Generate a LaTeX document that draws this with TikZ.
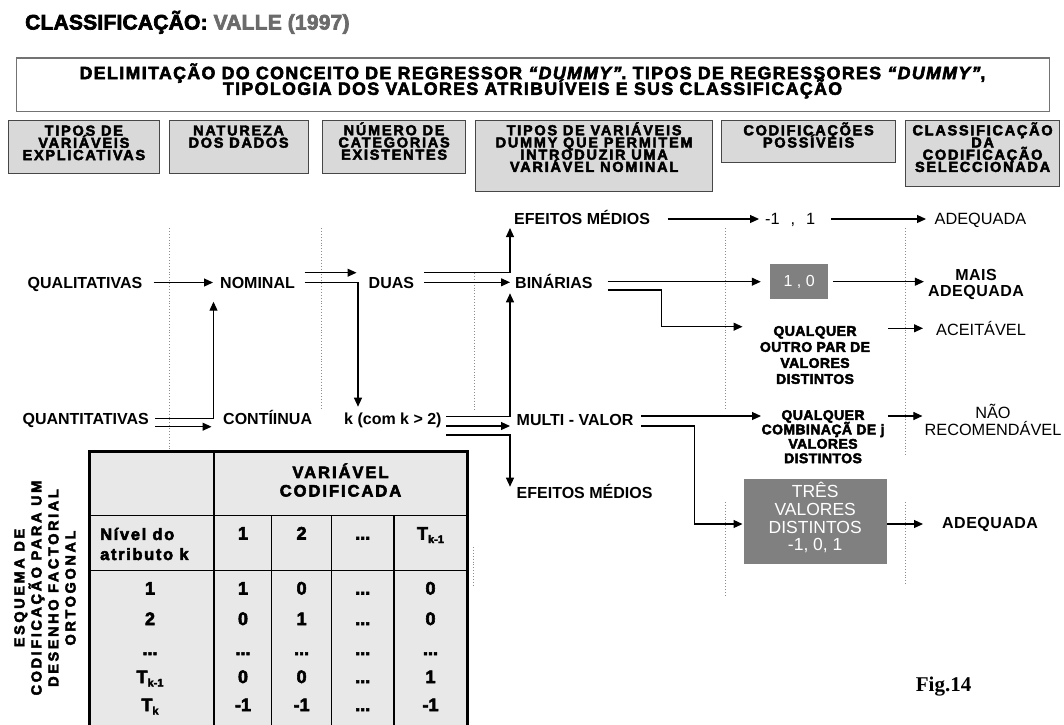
\documentclass[tikz,border=0pt]{standalone}
\usepackage{fontspec}
\setmainfont{Liberation Sans}
\newfontfamily\hvfont{Liberation Sans Bold}[FakeBold=3.2]
\newfontfamily\hvitfont{Liberation Sans Bold Italic}[FakeBold=3.2]
\newfontfamily\bdfont{Liberation Sans Bold}
\newfontfamily\rgfont{Liberation Sans}
\newfontfamily\figfont{Liberation Serif Bold}
\usetikzlibrary{arrows.meta,calc}

% heavy spaced capitals: size, leading, letter spacing
\newcommand{\heavy}[3]{\hvfont\fontsize{#1}{#2}\selectfont\addfontfeature{LetterSpace=#3}\lineskiplimit=-100pt\relax}
\newcommand{\plainbold}[2]{\bdfont\fontsize{#1}{#2}\selectfont\lineskiplimit=-100pt\relax}
\newcommand{\plainreg}[2]{\rgfont\fontsize{#1}{#2}\selectfont\lineskiplimit=-100pt\relax}
\newcommand{\dum}{{\hvitfont\addfontfeature{LetterSpace=8}“DUMMY”}}
\newcommand{\Tsub}[1]{T\raisebox{-3.5pt}{\fontsize{11}{11}\selectfont #1}}

\begin{document}
\begin{tikzpicture}[x=1pt,y=-1pt,
  arr/.style={line width=1.1pt,-{Triangle[length=9pt,width=8pt]}},
  dotln/.style={line width=0.9pt,dotted,draw=black!45},
  colbox/.style={draw=black!72,line width=1.2pt,fill=black!15,inner sep=0pt,anchor=north west},
  hd/.style={inner sep=0pt,align=center,anchor=north,font={\heavy{14.5}{12.2}{12}}},
  lbl/.style={inner sep=0pt,anchor=west,text height=11.5pt,text depth=0pt,font={\plainbold{16}{16}}},
  rlbl/.style={inner sep=0pt,anchor=west,text height=11.7pt,text depth=0pt,font={\plainreg{16.3}{16.3}}},
  qbox/.style={inner sep=0pt,align=center,font={\heavy{14}{16}{3}}},
  graybox/.style={fill=black!50,inner sep=0pt,text=white,font={\plainreg{16}{16}}},
  tbl/.style={inner sep=0pt,anchor=base,font={\heavy{18}{18}{0}}},
]
\path[use as bounding box] (0,0) rectangle (1064,724);
\clip (0,0) rectangle (1064,724);
\fill[white] (0,0) rectangle (1064,724);

% ---------- title ----------
\node[inner sep=0pt,anchor=base west,font={\heavy{21}{21}{1}}] (ttl) at (25,29.5)
  {CLASSIFICAÇÃO: \textcolor{black!58}{VALLE (1997)}};

% ---------- heading box ----------
\node[draw=black!55,line width=1.2pt,fill=white,inner sep=0pt,anchor=north west,
      minimum width=1033.5pt,minimum height=53.7pt] (hdr) at (15.5,57.3) {};
\node[inner sep=0pt,align=center,font={\heavy{17.7}{15.7}{8}}] (hdrtxt) at (532.5,80.9)
  {DELIMITAÇÃO DO CONCEITO DE REGRESSOR \dum. TIPOS DE REGRESSORES \dum,\\
   TIPOLOGIA DOS VALORES ATRIBUÍVEIS E SUS CLASSIFICAÇÃO};

% ---------- column headings ----------
\node[colbox,minimum width=151.5pt,minimum height=53pt] (c1) at (7.5,120) {};
\node[colbox,minimum width=139pt,minimum height=53pt] (c2) at (168.5,120) {};
\node[colbox,minimum width=143pt,minimum height=53pt] (c3) at (322,120) {};
\node[colbox,minimum width=237pt,minimum height=70.5pt] (c4) at (475,120) {};
\node[colbox,minimum width=174pt,minimum height=42pt] (c5) at (721,120) {};
\node[colbox,minimum width=154pt,minimum height=66pt] (c6) at (905,120) {};
\node[hd] (c1t) at ($(c1.north)+(0,5.3)$) {TIPOS DE\\VARIÁVEIS\\EXPLICATIVAS};
\node[hd] (c2t) at ($(c2.north)+(0,5.3)$) {NATUREZA\\DOS DADOS};
\node[hd] (c3t) at ($(c3.north)+(0,2.2)$) {NÚMERO DE\\CATEGORIAS\\EXISTENTES};
\node[hd] (c4t) at ($(c4.north)+(0,2.2)$) {TIPOS DE VARIÁVEIS\\DUMMY QUE PERMITEM\\INTRODUZIR UMA\\VARIÁVEL NOMINAL};
\node[hd] (c5t) at ($(c5.north)+(0,2.2)$) {CODIFICAÇÕES\\POSSÍVEIS};
\node[hd] (c6t) at ($(c6.north)+(0,2.2)$) {CLASSIFICAÇÃO\\DA\\CODIFICAÇÃO\\SELECCIONADA};

% ---------- dotted column separators ----------
\draw[dotln] (169,228) -- (169,451);
\draw[dotln] (321,228) -- (321,410);
\draw[dotln] (474.6,273) -- (474.6,410);
\draw[dotln] (473,547) -- (473,586);
\draw[dotln] (725.5,228) -- (725.5,410) (725.5,502) -- (725.5,595);
\draw[dotln] (905,228) -- (905,457) (905,502) -- (905,585);

% ---------- labels ----------
\node[lbl] (efA) at (514,219) {EFEITOS MÉDIOS};
\node[rlbl] (m11) at (765,219) {-1\hspace{11pt},\hspace{11pt}1};
\node[rlbl] (adqA) at (934.5,219) {ADEQUADA};

\node[lbl] (qual) at (27.5,283) {QUALITATIVAS};
\node[lbl] (nom) at (220,283) {NOMINAL};
\node[lbl] (duas) at (368.5,283) {DUAS};
\node[lbl] (bin) at (515,283) {BINÁRIAS};
\node[graybox,minimum width=57.5pt,minimum height=35pt] (b10) at (799.2,281.7) {1 , 0};
\node[inner sep=0pt,align=center,font={\plainbold{16}{16}\addfontfeature{LetterSpace=3}}] (mais) at (976,284.9) {MAIS\\ADEQUADA};
\node[qbox] (qoutro) at (815,355) {QUALQUER\\OUTRO PAR DE\\VALORES\\DISTINTOS};
\node[rlbl] (aceit) at (936,330) {ACEITÁVEL};

\node[lbl] (quant) at (22.4,419) {QUANTITATIVAS};
\node[lbl] (cont) at (223,419) {CONTÍINUA};
\node[lbl] (kk) at (344,419) {k (com k > 2)};
\node[lbl] (multi) at (516.5,420) {MULTI - VALOR};
\node[qbox,font={\heavy{14}{14.4}{3}}] (qcomb) at (823,436.7) {QUALQUER\\COMBINAÇÃ DE j\\VALORES\\DISTINTOS};
\node[inner sep=0pt,align=center,font={\plainreg{16.3}{17.3}}] (nrec) at (993,419.8) {NÃO\\RECOMENDÁVEL};

\node[lbl] (efB) at (516.5,493) {EFEITOS MÉDIOS};
\node[graybox,minimum width=143pt,minimum height=84.7pt] (tres) at (815.2,521.7) {};
\node[inner sep=0pt,align=center,text=white,font={\plainreg{17.5}{17.7}}] (trest) at (815.2,517.8) {TRÊS\\VALORES\\DISTINTOS\\-1, 0, 1};
\node[lbl,font={\plainbold{16}{16}\addfontfeature{LetterSpace=3}}] (adqB) at (942,522.7) {ADEQUADA};

% ---------- connectors ----------
\draw[arr] ($(qual.east)+(11,-0.5)$) -- ($(nom.west)+(-7,-0.5)$);
\draw[arr] ($(nom.east)+(9.5,-10.3)$) -- ($(duas.west)+(-12,-10.3)$);
\draw[arr] ($(nom.east)+(9.5,-0.7)$) -| ($(kk.west)+(14,-12.3)$);
\draw[arr] ($(duas.east)+(10,-10.7)$) -| ($(efA.west)+(-4,9)$);
\draw[arr] ($(duas.east)+(10,-0.7)$) -- ($(bin.west)+(-5,-0.7)$);
\draw[arr] ($(quant.east)+(6,-0.7)$) -| ($(nom.west)+(-6.5,18.7)$);
\draw[arr] ($(quant.east)+(6,7.7)$) -- ($(cont.west)+(-11.5,7.7)$);
\draw[arr] ($(kk.east)+(4.5,-2.3)$) -| ($(bin.west)+(-5,10.3)$);
\draw[arr] ($(kk.east)+(4.5,7)$) -- ($(multi.west)+(-6.5,6)$);
\draw[arr] ($(kk.east)+(4.5,16)$) -| ($(efB.west)+(-6.5,-6.3)$);
\draw[arr] ($(bin.east)+(15,-1.3)$) -- ($(b10.west)+(-9.5,0)$);
\draw[arr] ($(bin.east)+(15,7)$) -| ($(bin.east)+(69,43.7)$) -- ($(qoutro.center)+(-72.5,-28.3)$);
\draw[arr] ($(b10.east)+(5,0)$) -- ($(mais.west)+(-4,-3.2)$);
\draw[arr] ($(qoutro.center)+(73,-26.7)$) -- ($(aceit.west)+(-13,-1.7)$);
\draw[arr] ($(efA.east)+(17.6,0)$) -- ($(m11.west)+(-6,0)$);
\draw[arr] ($(m11.east)+(15.7,0)$) -- ($(adqA.west)+(-8.5,0)$);
\draw[arr] ($(multi.east)+(7.7,-4)$) -- ($(qcomb.center)+(-62,-20.7)$);
\draw[arr] ($(multi.east)+(7.7,6)$) -| ($(multi.east)+(61,104)$) -- ($(tres.west)+(-1,2.3)$);
\draw[arr] ($(tres.east)+(0,2.3)$) -- ($(adqB.west)+(-19,1.3)$);
\draw[arr] ($(qcomb.center)+(64.8,-20.7)$) -- ($(nrec.west)+(-2,-3.8)$);

% ---------- coding table ----------
\fill[black!9] (89,451.7) rectangle (467,740);
\draw[line width=1.3pt] (214,451.7) -- (214,740)
  (89,515.5) -- (467,515.5) (89,570.5) -- (467,570.5)
  (271.7,515.5) -- (271.7,740) (331.5,515.5) -- (331.5,740) (394,515.5) -- (394,740);
\draw[line width=3pt] (89,740) -- (89,451.7) -- (467,451.7) -- (467,740);

\node[inner sep=0pt,align=center,font={\heavy{16.5}{18.5}{12}}] (vc) at (340.5,480) {VARIÁVEL\\CODIFICADA};
\node[inner sep=0pt,align=left,anchor=west,font={\heavy{16.5}{20}{10}}] (niv) at (100,544) {Nível do\\atributo k};
\node[tbl] (h1) at (243,539.5) {1};
\node[tbl] (h2) at (301.6,539.5) {2};
\node[tbl] (h3) at (362.7,539.5) {...};
\node[tbl] (h4) at (430.5,539.5) {\Tsub{k-1}};

\node[tbl] (a0) at (150,594.5) {1};
\node[tbl] (a1) at (243,594.5) {1};
\node[tbl] (a2) at (301.6,594.5) {0};
\node[tbl] (a3) at (362.7,594.5) {...};
\node[tbl] (a4) at (430.5,594.5) {0};

\node[tbl] (b0) at (150,625) {2};
\node[tbl] (b1) at (243,625) {0};
\node[tbl] (b2) at (301.6,625) {1};
\node[tbl] (b3) at (362.7,625) {...};
\node[tbl] (b4) at (430.5,625) {0};

\node[tbl] (d0) at (150,655) {...};
\node[tbl] (d1) at (243,655) {...};
\node[tbl] (d2) at (301.6,655) {...};
\node[tbl] (d3) at (362.7,655) {...};
\node[tbl] (d4) at (430.5,655) {...};

\node[tbl] (e0) at (150,683) {\Tsub{k-1}};
\node[tbl] (e1) at (243,683) {0};
\node[tbl] (e2) at (301.6,683) {0};
\node[tbl] (e3) at (362.7,683) {...};
\node[tbl] (e4) at (430.5,683) {1};

\node[tbl] (f0) at (150,711) {\Tsub{k}};
\node[tbl] (f1) at (243,711) {-1};
\node[tbl] (f2) at (301.6,711) {-1};
\node[tbl] (f3) at (362.7,711) {...};
\node[tbl] (f4) at (430.5,711) {-1};

\node[inner sep=0pt,align=center,rotate=90,font={\heavy{14.5}{17}{18}}] (esq) at (45,588)
  {ESQUEMA DE\\CODIFICAÇÃO PARA UM\\DESENHO FACTORIAL\\ORTOGONAL};

\node[inner sep=0pt,anchor=west,font={\figfont\fontsize{21}{21}\selectfont}] (fig) at (915.7,686.7) {Fig.14};
\end{tikzpicture}
\end{document}
